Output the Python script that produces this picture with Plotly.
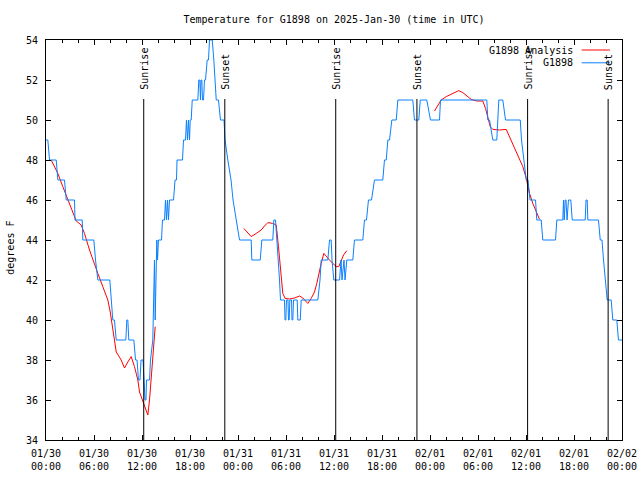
import pandas as pd
import plotly.graph_objects as go

START = pd.Timestamp("2025-01-30 00:00")

# Observations (G1898): hours since 2025-01-30 00:00 UTC, temperature in F
obs_hours = [0.00, 0.23, 0.44, 1.28, 1.48, 2.31, 2.53, 3.56, 3.63, 4.53, 4.60, 5.98, 6.19, 6.48, 7.98,
             8.15, 8.35, 8.56, 8.78, 9.98, 10.10, 10.23, 10.35, 10.98, 11.19, 11.38, 11.56, 11.75, 11.88,
             12.13, 12.25, 12.38, 12.50, 12.56, 12.94, 13.06, 13.35, 13.48, 13.56, 13.65, 13.73, 13.85,
             13.94, 14.06, 14.44, 14.56, 14.81, 14.94, 15.06, 15.19, 15.31, 15.44, 15.94, 16.13, 16.31,
             16.38, 17.06, 17.19, 17.44, 17.56, 17.69, 17.81, 17.94, 18.03, 18.15, 18.28, 18.98, 19.10,
             19.23, 19.31, 19.38, 19.48, 19.56, 19.69, 19.81, 19.94, 20.15, 20.31, 20.44, 20.78, 20.98,
             21.15, 21.28, 21.56, 21.81, 22.25, 22.38, 22.73, 23.13, 23.38, 23.75, 24.19, 25.65, 25.73,
             26.78, 26.98, 28.35, 28.48, 28.69, 28.85, 29.10, 29.19, 29.31, 29.81, 29.88, 29.98, 30.06,
             30.25, 30.31, 30.40, 30.48, 30.69, 30.75, 30.85, 30.94, 31.40, 31.48, 31.78, 31.90, 33.98,
             34.25, 34.40, 35.23, 35.44, 35.65, 35.75, 35.98, 36.69, 36.88, 37.00, 37.25, 37.38, 37.60,
             38.35, 38.56, 39.60, 39.81, 40.06, 40.31, 40.69, 41.06, 42.10, 42.31, 42.53, 42.73, 42.94,
             43.23, 43.78, 43.98, 45.85, 46.06, 46.60, 46.78, 47.60, 48.06, 49.19, 49.31, 55.10, 55.23,
             55.44, 55.85, 56.35, 56.60, 57.10, 57.44, 59.28, 59.44, 59.69, 60.03, 60.25, 60.50, 61.19,
             61.35, 61.90, 62.10, 63.69, 63.85, 64.60, 64.69, 64.78, 64.90, 65.00, 65.13, 65.31, 65.60,
             65.78, 67.40, 67.50, 67.65, 67.73, 69.06, 69.28, 69.50, 69.69, 69.90, 70.15, 70.65, 70.85,
             71.35, 71.56, 72.00]
obs_temp = [49, 49, 48, 48, 47, 47, 46, 46, 45, 45, 44, 44, 43, 42, 42,
            41, 40, 40, 39, 39, 40, 40, 39, 39, 38, 38, 37, 37, 38,
            38, 37, 36, 36, 37, 37, 38, 39, 42, 43, 40, 43, 44,
            43, 44, 44, 45, 45, 46, 45, 46, 45, 46, 46, 47, 47,
            48, 48, 49, 49, 50, 49, 50, 49, 50, 50, 51, 51, 52,
            52, 51, 52, 52, 51, 51, 52, 52, 53, 53, 54, 54, 53,
            52, 51, 51, 50, 50, 49, 48, 47, 46, 45, 44, 44, 43,
            43, 44, 44, 45, 45, 44, 43, 42, 41, 41, 40, 40, 41,
            41, 40, 40, 41, 41, 40, 40, 41, 41, 40, 40, 41, 41,
            42, 43, 43, 44, 44, 43, 42, 42, 43, 42, 43, 42, 43,
            43, 44, 44, 45, 45, 46, 46, 47, 47, 48, 48, 49, 49,
            50, 50, 51, 51, 50, 50, 51, 51, 50, 50, 51, 51, 50,
            50, 49, 49, 51, 51, 50, 50, 49, 48, 47, 47, 46, 46,
            45, 45, 44, 44, 45, 45, 46, 45, 46, 46, 45, 46, 46,
            45, 45, 46, 46, 45, 45, 44, 44, 43, 42, 41, 41, 40,
            40, 39, 39]

# Analysis (G1898 Analysis): three segments separated by gaps (None)
ana_hours = [0.65, 1.48, 2.10, 2.73, 3.35, 3.78, 4.40, 4.81, 5.44, 6.06, 6.48, 7.10, 7.73, 8.03,
             8.35, 8.78, 9.40, 9.81, 10.23, 10.65, 11.06, 11.48, 11.69, 12.10, 12.44, 12.73, 12.94,
             13.15, 13.35, 13.65, None,
             24.73, 25.23, 25.65, 26.28, 26.90, 27.31, 27.73, 28.35, 28.78, 29.06, 29.19, 29.40, 29.60,
             29.90, 30.44, 31.06, 31.69, 32.10, 32.73, 33.15, 33.56, 33.85, 34.10, 34.40, 34.73, 35.03,
             35.44, 35.85, 36.28, 36.60, 36.90, 37.19, 37.60, None,
             48.56, 48.98, 49.40, 50.03, 50.85, 51.60, 52.10, 52.73, 53.15, 53.85, 54.60, 54.94, 55.23,
             55.53, 55.85, 56.69, 57.53, 57.94, 58.56, 59.06, 59.60, 60.03, 60.44, 60.85, 61.28, 61.69]
ana_temp = [48.0, 47.33, 46.67, 46.0, 45.33, 44.95, 44.75, 44.33, 43.5, 42.75, 42.33, 41.67, 41.0, 40.4,
            39.5, 38.4, 38.0, 37.6, 37.9, 38.17, 37.67, 37.0, 36.4, 35.9, 35.5, 35.25, 36.0,
            37.2, 38.3, 39.67, None,
            44.58, 44.33, 44.17, 44.33, 44.5, 44.7, 44.87, 44.83, 44.75, 43.67, 43.17, 42.0, 41.33,
            41.08, 41.05, 41.1, 41.2, 41.1, 40.83, 41.08, 41.4, 41.83, 42.33, 42.83, 43.33, 43.17,
            43.0, 42.83, 42.67, 42.67, 43.0, 43.25, 43.47, None,
            50.45, 50.7, 51.0, 51.17, 51.33, 51.47, 51.37, 51.17, 51.03, 50.95, 50.95, 50.58, 50.08,
            49.67, 49.53, 49.5, 49.53, 49.17, 48.67, 48.17, 47.67, 47.08, 46.33, 45.83, 45.42, 45.03]

sunrise_times = ["2025-01-30 12:13", "2025-01-31 12:13", "2025-02-01 12:12"]
sunset_times = ["2025-01-30 22:21", "2025-01-31 22:22", "2025-02-01 22:16"]

tick_times = ["2025-01-30 00:00", "2025-01-30 06:00", "2025-01-30 12:00", "2025-01-30 18:00",
              "2025-01-31 00:00", "2025-01-31 06:00", "2025-01-31 12:00", "2025-01-31 18:00",
              "2025-02-01 00:00", "2025-02-01 06:00", "2025-02-01 12:00", "2025-02-01 18:00",
              "2025-02-02 00:00"]
tick_labels = ["01/30<br>00:00", "01/30<br>06:00", "01/30<br>12:00", "01/30<br>18:00",
               "01/31<br>00:00", "01/31<br>06:00", "01/31<br>12:00", "01/31<br>18:00",
               "02/01<br>00:00", "02/01<br>06:00", "02/01<br>12:00", "02/01<br>18:00",
               "02/02<br>00:00"]
y_ticks = [34, 36, 38, 40, 42, 44, 46, 48, 50, 52, 54]

FONT = "DejaVu Sans Mono"
BLUE = "#0a80ff"
RED = "#ff0000"


def to_time(hours):
    return [None if h is None else START + pd.Timedelta(hours=h) for h in hours]


fig = go.Figure()
fig.add_trace(go.Scatter(x=to_time(ana_hours), y=ana_temp, mode="lines", name="G1898 Analysis",
                         line=dict(color=RED, width=1), connectgaps=False))
fig.add_trace(go.Scatter(x=to_time(obs_hours), y=obs_temp, mode="lines", name="G1898",
                         line=dict(color=BLUE, width=1)))

shapes = []
annotations = []
for label, times in (("Sunrise", sunrise_times), ("Sunset", sunset_times)):
    for t in times:
        shapes.append(dict(type="line", xref="x", yref="y", x0=t, x1=t, y0=34, y1=51.05,
                           line=dict(color="black", width=1)))
        annotations.append(dict(x=t, y=51.4, xref="x", yref="y", text=label, textangle=-90,
                                showarrow=False, xanchor="center", yanchor="bottom",
                                font=dict(family=FONT, size=10, color="black")))

# manual legend (gnuplot style: text right-aligned, sample on the right)
for i, (name, col) in enumerate((("G1898 Analysis", RED), ("G1898", BLUE))):
    yp = 0.975 - i * 0.032
    annotations.append(dict(x=0.918, y=yp, xref="paper", yref="paper", text=name, showarrow=False,
                            xanchor="right", yanchor="middle",
                            font=dict(family=FONT, size=10, color="black")))
    shapes.append(dict(type="line", xref="paper", yref="paper", x0=0.930, x1=0.979, y0=yp, y1=yp,
                       line=dict(color=col, width=1)))

annotations.append(dict(x=-0.063, y=0.48, xref="paper", yref="paper", text="degrees F",
                        textangle=-90, showarrow=False, xanchor="center", yanchor="middle",
                        font=dict(family=FONT, size=10, color="black")))

fig.update_layout(
    width=640, height=480,
    margin=dict(l=46, r=18, t=40, b=40, autoexpand=False),
    paper_bgcolor="white", plot_bgcolor="white",
    showlegend=False,
    title=dict(text="Temperature for G1898 on 2025-Jan-30 (time in UTC)", x=0.5, xref="paper",
               y=1 - 19 / 480, yref="container", yanchor="middle",
               font=dict(family=FONT, size=10, color="black")),
    font=dict(family=FONT, size=10, color="black"),
    shapes=shapes, annotations=annotations,
)
fig.update_xaxes(
    type="date", range=[tick_times[0], tick_times[-1]], automargin=False,
    tickmode="array", tickvals=tick_times, ticktext=tick_labels,
    ticks="inside", ticklen=5, tickcolor="black", tickwidth=1,
    minor=dict(ticks="inside", ticklen=3, tickcolor="black", dtick=2 * 3600 * 1000,
               tick0=tick_times[0], showgrid=False),
    showline=True, linecolor="black", linewidth=1, mirror="allticks",
    showgrid=False, zeroline=False, ticklabelstandoff=4,
    tickfont=dict(family=FONT, size=10, color="black"),
)
fig.update_yaxes(
    range=[34, 54], tickmode="array", tickvals=y_ticks, automargin=False,
    ticks="inside", ticklen=5, tickcolor="black", tickwidth=1,
    showline=True, linecolor="black", linewidth=1, mirror="allticks",
    showgrid=False, zeroline=False, ticklabelstandoff=5,
    tickfont=dict(family=FONT, size=10, color="black"),
)

fig.write_html("out.html", config={"displayModeBar": False},
               post_script="document.body.style.margin='0';document.body.style.padding='0';")
